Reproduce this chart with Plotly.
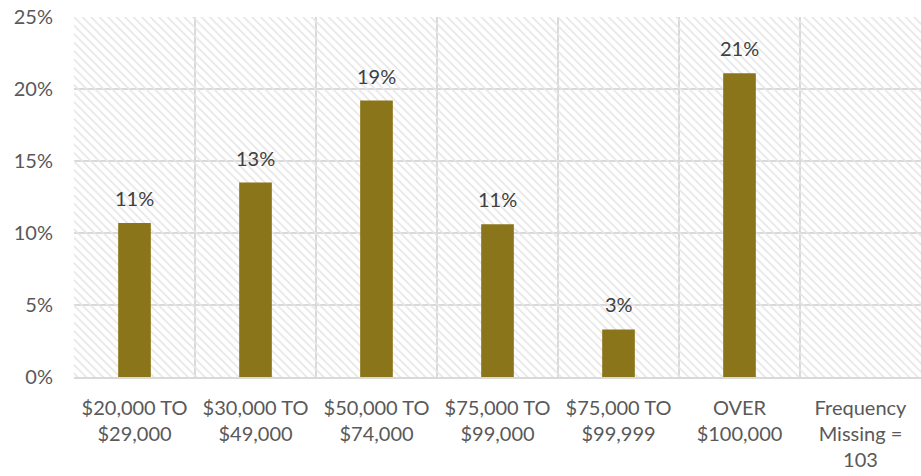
import plotly.graph_objects as go

categories = ["$20,000 TO<br>$29,000", "$30,000 TO<br>$49,000", "$50,000 TO<br>$74,000",
              "$75,000 TO<br>$99,000", "$75,000 TO<br>$99,999", "OVER<br>$100,000",
              "Frequency<br>Missing =<br>103"]
values = [10.7, 13.5, 19.2, 10.6, 3.3, 21.1, None]
labels = ["11%", "13%", "19%", "11%", "3%", "21%", ""]
y_ticks = [0, 5, 10, 15, 20, 25]
y_tick_labels = ["0%", "5%", "10%", "15%", "20%", "25%"]

FONT = "Lato"
FS = 20
n = len(categories)
fig = go.Figure()

# hatched background panel on the base (linear) x axis
fig.add_trace(go.Bar(
    x=[n / 2], y=[25], width=[n], xaxis="x", yaxis="y",
    marker=dict(color="rgba(0,0,0,0)", line=dict(width=0),
                pattern=dict(shape="\\", fgcolor="#E6E6E6", bgcolor="rgba(0,0,0,0)",
                             size=6, solidity=0.28, fillmode="replace")),
    hoverinfo="skip", showlegend=False))

# data bars on the overlaying category axis
fig.add_trace(go.Bar(
    x=categories, y=values, xaxis="x2", yaxis="y",
    marker=dict(color="#8B751A", line=dict(width=0)),
    showlegend=False))

for c, v, t in zip(categories, values, labels):
    if v is not None:
        fig.add_annotation(x=c, y=v, xref="x2", yref="y", text=t, showarrow=False,
                           yanchor="bottom", yshift=11,
                           font=dict(family=FONT, size=FS, color="#404040"))

fig.update_layout(
    width=921, height=476,
    margin=dict(l=74, r=0, t=17, b=99),
    paper_bgcolor="white", plot_bgcolor="white",
    bargap=0.73,
    font=dict(family=FONT, size=FS, color="#595959"),
    xaxis=dict(range=[0, n], tickvals=list(range(n + 1)), showticklabels=False,
               showgrid=True, gridcolor="#D9D9D9", gridwidth=2, zeroline=False,
               ticks="", showline=True, linecolor="#D9D9D9", linewidth=2,
               automargin=False, fixedrange=True),
    xaxis2=dict(overlaying="x", type="category", showgrid=False, showline=False,
                ticks="", side="bottom", ticklabelstandoff=17,
                tickfont=dict(family=FONT, size=FS, color="#595959"),
                automargin=False, fixedrange=True),
    yaxis=dict(range=[0, 25], tickvals=y_ticks, ticktext=y_tick_labels,
               showgrid=True, gridcolor="#D9D9D9", gridwidth=2, zeroline=False,
               tickfont=dict(family=FONT, size=FS, color="#595959"), ticklabelstandoff=20,
               ticklabeloverflow="allow", automargin=False, fixedrange=True),
)

fig.write_html("out.html", config={"displayModeBar": False, "staticPlot": True},
               post_script="document.body.style.margin='0';document.body.style.overflow='hidden';")
